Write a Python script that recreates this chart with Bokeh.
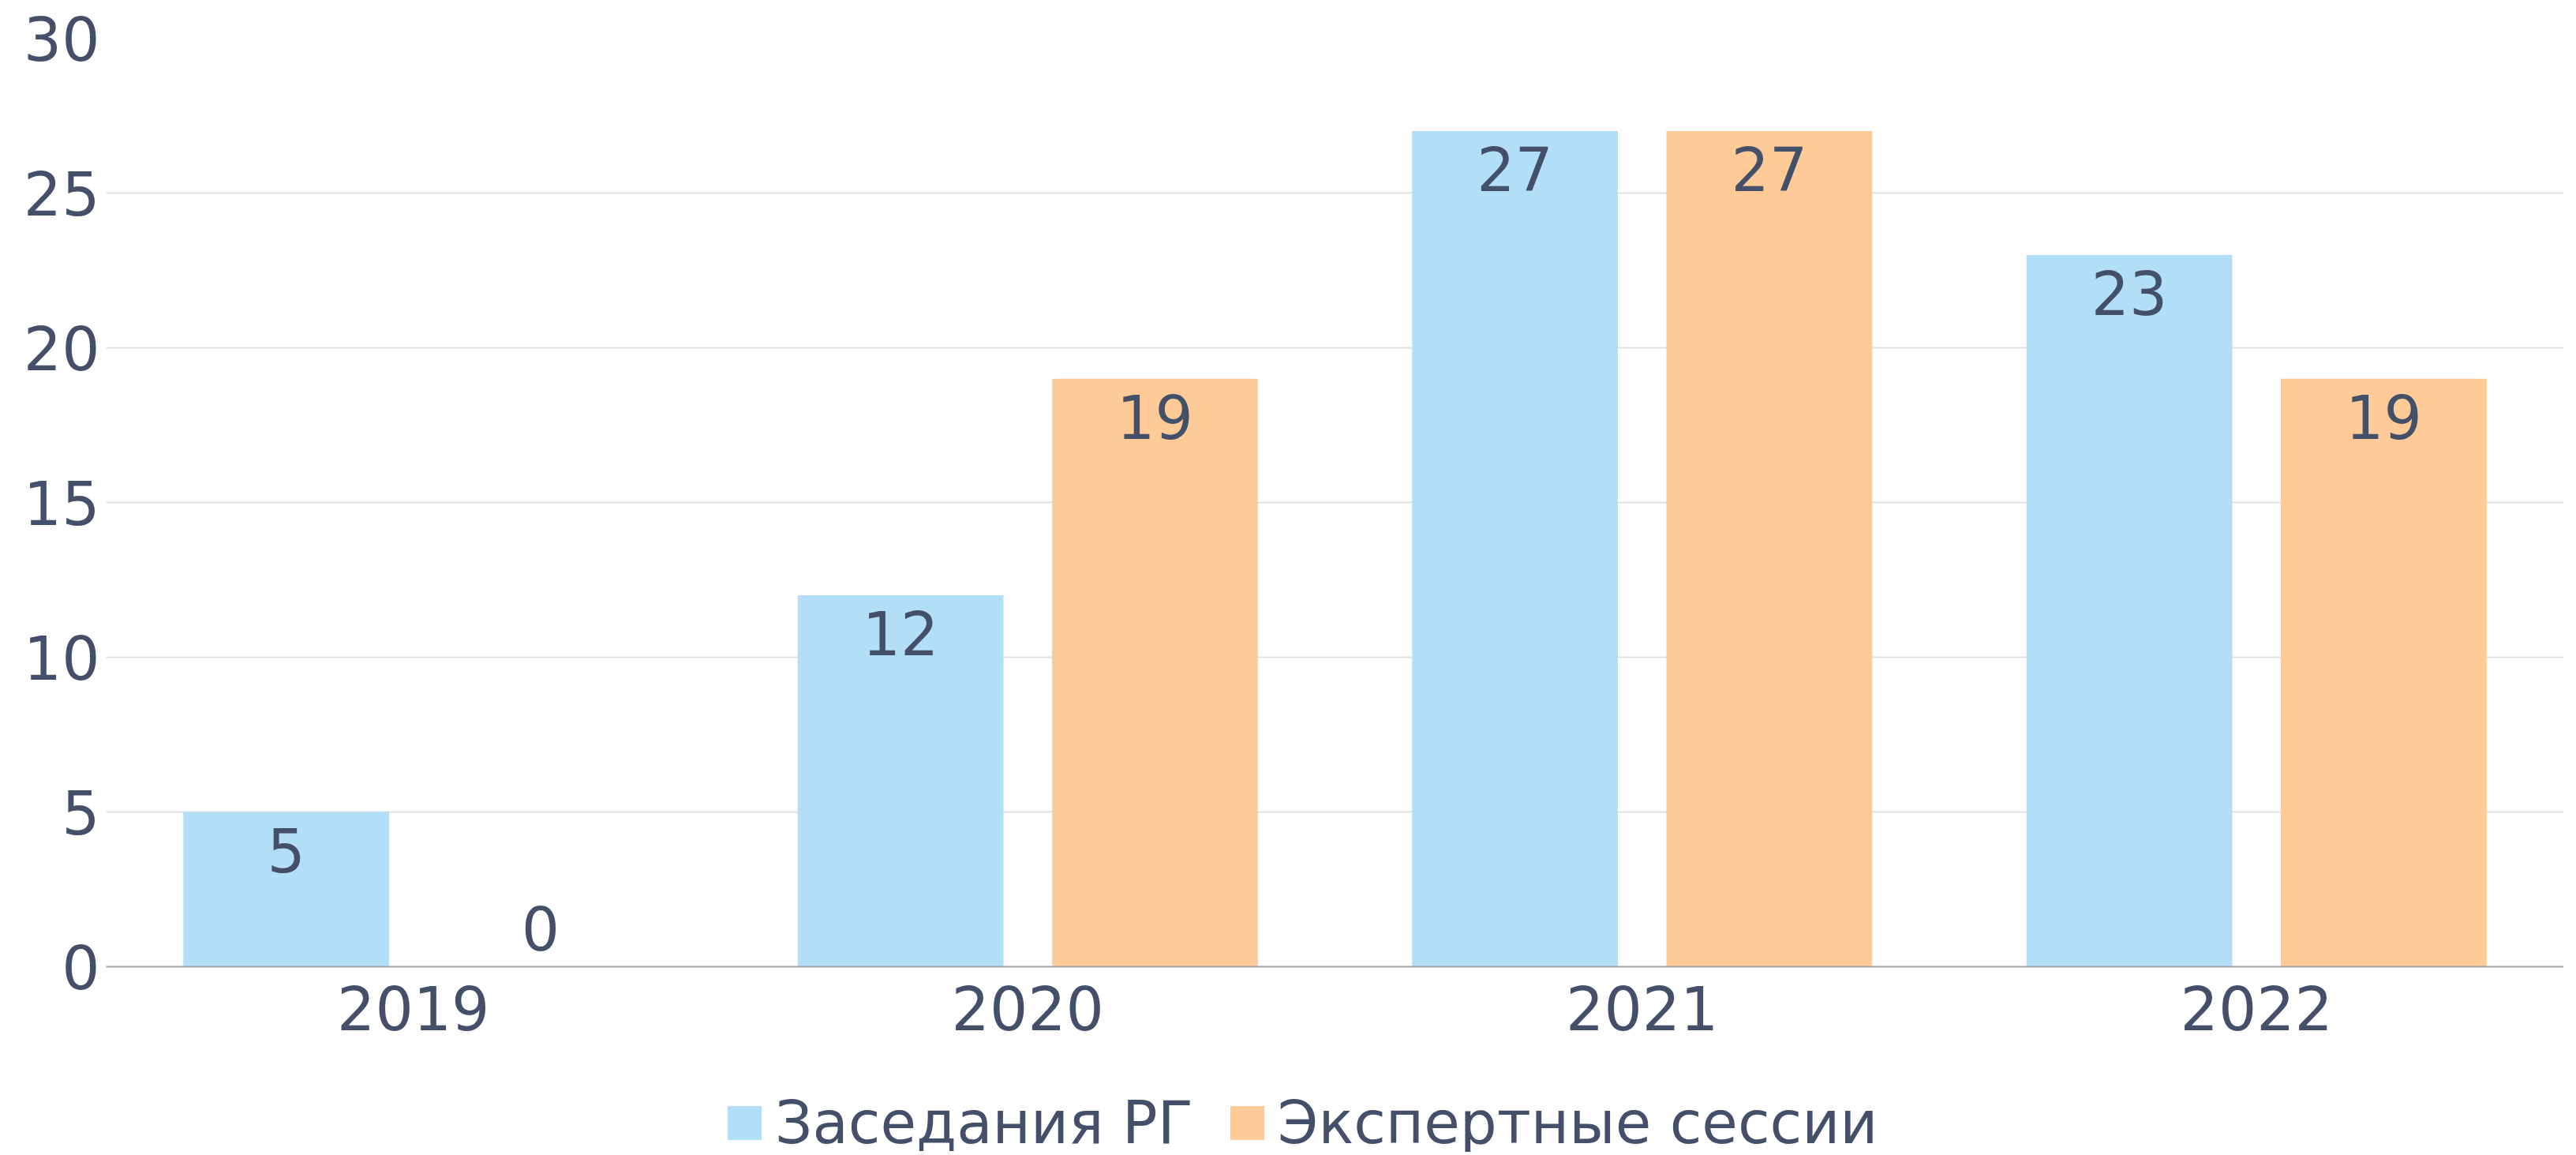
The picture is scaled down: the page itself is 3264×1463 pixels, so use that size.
from bokeh.plotting import figure
from bokeh.layouts import column
from bokeh.models import ColumnDataSource, Range1d, FixedTicker, Legend, LegendItem, LabelSet
from bokeh.transform import dodge
from bokeh.core.properties import value
from bokeh.embed import file_html
from bokeh.resources import INLINE

years = ["2019", "2020", "2021", "2022"]
meetings = [5, 12, 27, 23]
sessions = [0, 19, 27, 19]
series_names = ["Заседания РГ", "Экспертные сессии"]
y_ticks = [0, 5, 10, 15, 20, 25, 30]

BLUE = "#b3def8"
ORANGE = "#fecb98"
TEXT = "#44506a"
FONT = "DejaVu Sans"
FS = "76px"
W_TOTAL = 3248

p = figure(x_range=years, y_range=Range1d(0, 30), width=W_TOTAL, height=1340,
           output_backend="svg", toolbar_location=None,
           min_border_left=134, min_border_right=0, min_border_top=48, min_border_bottom=116)
p.outline_line_color = None

src = ColumnDataSource(dict(years=years, meetings=meetings, sessions=sessions))

OFF = 0.207
W = 0.335
r1 = p.vbar(x=dodge("years", -OFF, range=p.x_range), top="meetings", width=W, source=src,
            fill_color=BLUE, line_color=None)
r2 = p.vbar(x=dodge("years", OFF, range=p.x_range), top="sessions", width=W, source=src,
            fill_color=ORANGE, line_color=None)

def add_labels(xs, vals, off):
    pos = [i for i, v in enumerate(vals) if v > 0]
    zer = [i for i, v in enumerate(vals) if v == 0]
    for idx, baseline, yoff in ((pos, "top", -20), (zer, "bottom", 21)):
        if not idx:
            continue
        s = ColumnDataSource(dict(x=[xs[i] for i in idx], y=[vals[i] for i in idx],
                                  t=[str(vals[i]) for i in idx]))
        p.add_layout(LabelSet(x=dodge("x", off, range=p.x_range), y="y", text="t", source=s,
                              text_align="center", text_baseline=baseline, y_offset=yoff,
                              text_font=value(FONT), text_font_size=value(FS), text_color=TEXT))

add_labels(years, meetings, -OFF)
add_labels(years, sessions, OFF)

p.yaxis.ticker = FixedTicker(ticks=y_ticks)
p.yaxis.axis_line_color = None
p.yaxis.major_tick_line_color = None
p.yaxis.minor_tick_line_color = None
p.yaxis.major_label_standoff = 2
p.xaxis.axis_line_color = "#a0a3ab"
p.xaxis.axis_line_width = 2
p.xaxis.major_tick_line_color = None
p.xaxis.minor_tick_line_color = None
p.xaxis.major_label_standoff = 18
for ax in (p.xaxis, p.yaxis):
    ax.major_label_text_font = FONT
    ax.major_label_text_font_size = FS
    ax.major_label_text_color = TEXT

p.xgrid.grid_line_color = None
p.ygrid.grid_line_color = "#e0e0e0"
p.ygrid.grid_line_width = 2

# legend strip below the chart (bars out of its visible y-range, only the legend shows)
lg = figure(width=W_TOTAL, height=119, x_range=p.x_range, y_range=Range1d(100, 101),
            output_backend="svg", toolbar_location=None,
            min_border=0, min_border_left=0, min_border_right=0, min_border_top=0, min_border_bottom=0)
lg.axis.visible = False
lg.grid.visible = False
lg.outline_line_color = None
g1 = lg.vbar(x=dodge("years", -OFF, range=lg.x_range), top="meetings", width=W, source=src,
             fill_color=BLUE, line_color=None)
g2 = lg.vbar(x=dodge("years", OFF, range=lg.x_range), top="sessions", width=W, source=src,
             fill_color=ORANGE, line_color=None)

legend = Legend(items=[LegendItem(label=series_names[0], renderers=[g1]),
                       LegendItem(label=series_names[1], renderers=[g2])],
                orientation="horizontal", location=(782, -6),
                label_text_font=FONT, label_text_font_size="74px", label_text_color=TEXT,
                glyph_width=54, glyph_height=54, label_standoff=12, spacing=41,
                border_line_color=None, background_fill_alpha=0, margin=0, padding=0,
                label_height=54)
lg.add_layout(legend, "center")

layout = column(p, lg, spacing=0)
open("out.html", "w").write(file_html(layout, INLINE))
